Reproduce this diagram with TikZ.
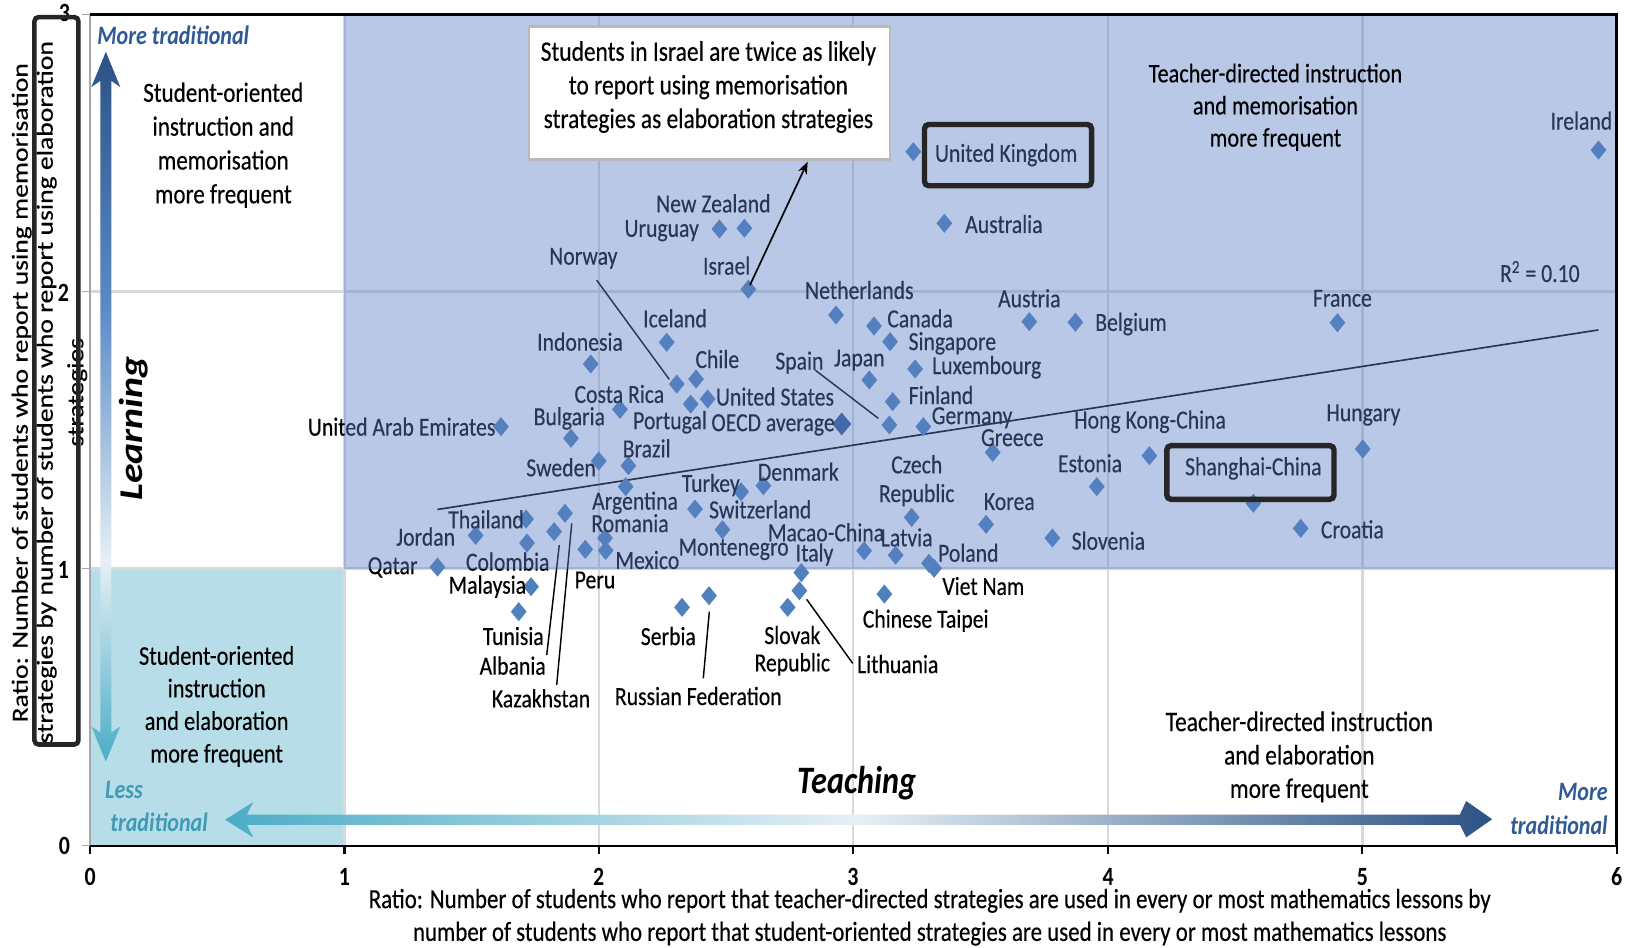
\documentclass[tikz,border=0pt]{standalone}
\usepackage{fontspec}
\setmainfont{Carlito}
\newfontfamily\hf{Carlito}[FakeStretch=0.83,FakeBold=0.3]
\newfontfamily\hfb{Carlito}[FakeStretch=0.83]
\newfontfamily\vf{Carlito}[FakeStretch=1.2,FakeBold=0.3]
\newfontfamily\vfb{Carlito}[FakeStretch=1.2]
\usetikzlibrary{shapes.geometric,arrows.meta}
\definecolor{diacol}{HTML}{4F81BD}
\definecolor{oecdcol}{HTML}{2F5A96}
\definecolor{ovl}{RGB}{93,128,198}
\definecolor{cyanreg}{HTML}{B7DEE8}
\definecolor{gridc}{HTML}{D9D9D9}
\definecolor{darkb}{HTML}{2C5284}
\definecolor{midb}{HTML}{5A8AC6}
\definecolor{arrcyan}{HTML}{4BACC6}
\definecolor{whitish}{HTML}{E6F0F5}
\definecolor{tradblue}{HTML}{2F5A96}
\definecolor{tradteal}{HTML}{3E9AB5}
\definecolor{boxc}{HTML}{262626}
\definecolor{axgrayc}{HTML}{A6A6A6}
\begin{document}
\begin{tikzpicture}[x=0.5pt,y=-0.5pt,
  dia/.style={diamond, fill=diacol, inner sep=0pt, outer sep=0pt, minimum width=7.6pt, minimum height=9.2pt},
  lab/.style={font={\hf\fontsize{12.6}{15}\selectfont}, inner sep=0pt, text=black},
  quad/.style={font={\hf\fontsize{13.4}{16.3}\selectfont}, inner sep=0pt, align=center, text=black},
  tick/.style={font={\hfb\bfseries\fontsize{12.7}{15}\selectfont}, inner sep=0pt},
  lead/.style={black, line width=0.7pt},
  gridl/.style={gridc, line width=1.1pt},
  axg/.style={axgrayc, line width=0.8pt},
  hlbox/.style={draw=boxc, line width=2.6pt, rounded corners=2pt},
  ]
\useasboundingbox (0,0) rectangle (1568,913);
\fill[white] (0,0) rectangle (1568,913);
% lower-left region
\fill[cyanreg] (87,548) rectangle (332,815);
% gridlines
\foreach \gx in {332,577,822,1068,1313} \draw[gridl] (\gx,14) -- (\gx,815);
\foreach \gy in {281,548} \draw[gridl] (87,\gy) -- (1558,\gy);
% trend line
\coordinate (tA) at (421.5,491);
\coordinate (tB) at (1540.4,318);
\draw[black, line width=0.8pt] (tA) -- (tB);
% diamonds
\node[dia] (dIreland) at (1540.5,144.6) {};
\node[dia] (dUK) at (880.2,146.2) {};
\node[dia] (dAustralia) at (910.1,215.2) {};
\node[dia] (dUruguay) at (693.3,220.7) {};
\node[dia] (dNZ) at (717.4,220) {};
\node[dia] (dIsrael) at (721.2,278.8) {};
\node[dia] (dNetherlands) at (805.7,303.6) {};
\node[dia] (dCanada) at (842.3,314.2) {};
\node[dia] (dSingapore) at (857.8,329.3) {};
\node[dia] (dAustria) at (992,310) {};
\node[dia] (dBelgium) at (1036.4,310.6) {};
\node[dia] (dFrance) at (1288.9,311) {};
\node[dia] (dIceland) at (642.5,329.9) {};
\node[dia] (dIndonesia) at (569.3,350.8) {};
\node[dia] (dChile) at (670.8,365.3) {};
\node[dia] (dNorway) at (652.2,370.1) {};
\node[dia] (dJapan) at (837.8,366.2) {};
\node[dia] (dLuxembourg) at (881.9,355.6) {};
\node[dia] (dCostaRica) at (597.5,394.5) {};
\node[dia] (dUS) at (682,384.5) {};
\node[dia] (dPortugal) at (665.6,389.4) {};
\node[dia] (dFinland) at (860.3,387.1) {};
\node[dia, fill=oecdcol, minimum width=9.2pt, minimum height=11pt] (dOECD) at (811.2,408.6) {};
\node[dia] (dSpain) at (857.1,409.6) {};
\node[dia] (dGermany) at (889.9,411.2) {};
\node[dia] (dUAE) at (482.8,411.2) {};
\node[dia] (dBulgaria) at (550.3,422.4) {};
\node[dia] (dGreece) at (956.7,436) {};
\node[dia] (dSweden) at (577,444.3) {};
\node[dia] (dBrazil) at (605.6,448.8) {};
\node[dia] (dHongKong) at (1107.7,439.2) {};
\node[dia] (dHungary) at (1313.3,432.7) {};
\node[dia] (dEstonia) at (1057,469) {};
\node[dia] (dDenmark) at (735.7,468.1) {};
\node[dia] (dTurkey) at (714.2,473.9) {};
\node[dia] (dArgentina) at (603,469) {};
\node[dia] (dSwitzerland) at (669.8,490.6) {};
\node[dia] (dCzech) at (878.6,498.6) {};
\node[dia] (dKorea) at (950.3,505.3) {};
\node[dia] (dShanghai) at (1207.9,485) {};
\node[dia] (dCroatia) at (1253.5,509.2) {};
\node[dia] (dSlovenia) at (1014.2,518.5) {};
\node[dia] (dThailand) at (507,500.3) {};
\node[dia] (dKazakhstan) at (544.5,494.7) {};
\node[dia] (dAlbania) at (534,512.4) {};
\node[dia] (dJordan) at (458.4,516) {};
\node[dia] (dColombia) at (507.9,523.3) {};
\node[dia] (dRomania) at (583.1,518.5) {};
\node[dia] (dPeru) at (564,529.4) {};
\node[dia] (dMexico) at (583.7,530.5) {};
\node[dia] (dMontenegro) at (696.2,510.5) {};
\node[dia] (dMacao) at (832.8,530.8) {};
\node[dia] (dLatvia) at (863.2,535) {};
\node[dia] (dPoland) at (895.3,542.9) {};
\node[dia] (dVietNam) at (900.2,547.7) {};
\node[dia] (dQatar) at (421.6,546.5) {};
\node[dia] (dItaly) at (772.3,551.9) {};
\node[dia] (dLithuania) at (770.4,569.3) {};
\node[dia] (dMalaysia) at (511.8,565.4) {};
\node[dia] (dTaipei) at (852.3,572.5) {};
\node[dia] (dRussia) at (683.3,574.1) {};
\node[dia] (dSerbia) at (657.3,585.3) {};
\node[dia] (dSlovak) at (759.1,585.3) {};
\node[dia] (dTunisia) at (499.9,589.5) {};
% labels
\node[lab] (lIreland) at (1524,116.3) {Ireland};
\node[lab] (lUK) at (969.7,149.4) {United Kingdom};
\node[lab] (lAustralia) at (967.5,215.9) {Australia};
\node[lab] (lNZ) at (687.5,196) {New Zealand};
\node[lab] (lUruguay) at (637.7,222.3) {Uruguay};
\node[lab] (lNorway) at (562.2,249) {Norway};
\node[lab] (lIsrael) at (700.3,256) {Israel};
\node[lab] (lNetherlands) at (828.2,279.5) {Netherlands};
\node[lab] (lAustria) at (992,287.5) {Austria};
\node[lab] (lFrance) at (1293.7,287.5) {France};
\node[lab] (lR2) at (1484,261.8) {R\textsuperscript{2} = 0.10};
\node[lab] (lCanada) at (886.7,306.8) {Canada};
\node[lab] (lBelgium) at (1090,312.3) {Belgium};
\node[lab] (lIceland) at (650.5,306.8) {Iceland};
\node[lab] (lIndonesia) at (559,329.3) {Indonesia};
\node[lab] (lSingapore) at (917.8,330.9) {Singapore};
\node[lab] (lChile) at (691.3,346) {Chile};
\node[lab] (lSpain) at (770.4,349.5) {Spain};
\node[lab] (lJapan) at (828.2,347) {Japan};
\node[lab] (lLuxembourg) at (950.9,354) {Luxembourg};
\node[lab] (lCostaRica) at (596.9,379.7) {Costa Rica};
\node[lab] (lUS) at (746.9,382.2) {United States};
\node[lab] (lFinland) at (906.9,380.7) {Finland};
\node[lab] (lBulgaria) at (548.7,403.2) {Bulgaria};
\node[lab] (lPortugal) at (645.7,407) {Portugal};
\node[lab] (lOECD) at (745,409.5) {OECD average};
\node[lab] (lGermany) at (936.8,402.6) {Germany};
\node[lab] (lUAE) at (387.1,411.2) {United Arab Emirates};
\node[lab] (lGreece) at (975.6,421.8) {Greece};
\node[lab] (lHongKong) at (1108.3,406.4) {Hong Kong-China};
\node[lab] (lHungary) at (1313.9,400) {Hungary};
\node[lab] (lBrazil) at (623.2,432.1) {Brazil};
\node[lab] (lSweden) at (540.7,450.4) {Sweden};
\node[lab] (lCzech) at (883.5,447.5) {Czech};
\node[lab] (lCzechR) at (883.5,477.1) {Republic};
\node[lab] (lEstonia) at (1050.5,446.5) {Estonia};
\node[lab] (lShanghai) at (1207.9,451.4) {Shanghai-China};
\node[lab] (lDenmark) at (769.4,454.6) {Denmark};
\node[lab] (lTurkey) at (685,467.4) {Turkey};
\node[lab] (lArgentina) at (612,484.6) {Argentina};
\node[lab] (lSwitzerland) at (732.6,490.9) {Switzerland};
\node[lab] (lKorea) at (972.7,483.5) {Korea};
\node[lab] (lCroatia) at (1303.3,510.1) {Croatia};
\node[lab] (lThailand) at (468.4,500.5) {Thailand};
\node[lab] (lRomania) at (607.2,504.2) {Romania};
\node[lab] (lMacao) at (796.1,513) {Macao-China};
\node[lab] (lJordan) at (410.2,517.2) {Jordan};
\node[lab] (lLatvia) at (873.8,517.9) {Latvia};
\node[lab] (lSlovenia) at (1068.2,521.1) {Slovenia};
\node[lab] (lMontenegro) at (707,529.5) {Montenegro};
\node[lab] (lItaly) at (785,534.4) {Italy};
\node[lab] (lPoland) at (933.2,532.7) {Poland};
\node[lab] (lMexico) at (623.9,539.7) {Mexico};
\node[lab] (lColombia) at (489.3,541.3) {Colombia};
\node[lab] (lQatar) at (378.4,546.8) {Qatar};
\node[lab] (lPeru) at (573.4,559) {Peru};
\node[lab] (lVietNam) at (947.7,564.8) {Viet Nam};
\node[lab] (lMalaysia) at (469.7,565.4) {Malaysia};
\node[lab] (lTaipei) at (892.1,598.2) {Chinese Taipei};
\node[lab] (lSerbia) at (644.1,613) {Serbia};
\node[lab] (lTunisia) at (494.7,613) {Tunisia};
\node[lab] (lSlovak) at (763.6,612) {Slovak};
\node[lab] (lSlovakR) at (763.6,640.3) {Republic};
\node[lab] (lAlbania) at (494.1,641.5) {Albania};
\node[lab] (lLithuania) at (865.2,640) {Lithuania};
\node[lab] (lKazakhstan) at (521.4,673) {Kazakhstan};
\node[lab] (lRussia) at (673,670.8) {Russian Federation};
% leader lines
\coordinate (nNorA) at (575,270);   \coordinate (nNorB) at (645,365.6);
\coordinate (nSpaA) at (785.5,356.6); \coordinate (nSpaB) at (846.5,403.2);
\coordinate (nAlbA) at (526.9,631.3); \coordinate (nAlbB) at (539,525.3);
\coordinate (nKazA) at (536.5,660.2); \coordinate (nKazB) at (551,504.4);
\coordinate (nRusA) at (683.6,589.5); \coordinate (nRusB) at (677.8,653.7);
\coordinate (nLitA) at (777.4,577.6); \coordinate (nLitB) at (821.8,639.3);
\draw[lead] (nNorA) -- (nNorB);
\draw[lead] (nSpaA) -- (nSpaB);
\draw[lead] (nAlbA) -- (nAlbB);
\draw[lead] (nKazA) -- (nKazB);
\draw[lead] (nRusA) -- (nRusB);
\draw[lead] (nLitA) -- (nLitB);
% translucent blue overlay
\fill[ovl, opacity=0.43] (332,14) rectangle (1558,548);
% axes
\draw[axg] (86.5,14) -- (86.5,815);
\foreach \ty in {14,281,548,815} \draw[axg] (79,\ty) -- (86.5,\ty);
\draw[black, line width=1pt] (86.5,815) -- (1558,815);
\foreach \tx in {87,332,577,822,1068,1313,1558} \draw[black, line width=1pt] (\tx,815) -- (\tx,823);
\draw[black, line width=1.5pt] (87,14) -- (1558,14) -- (1558,815);
% tick labels
\node[tick] (y3) at (62,12.5) {3};
\node[tick] (y2) at (61,282) {2};
\node[tick] (y1) at (61,549.4) {1};
\node[tick] (y0) at (62,815.4) {0};
\node[tick] (x0) at (87,845) {0};
\node[tick] (x1) at (332,845) {1};
\node[tick] (x2) at (577,845) {2};
\node[tick] (x3) at (822,845) {3};
\node[tick] (x4) at (1068,845) {4};
\node[tick] (x5) at (1313,845) {5};
\node[tick] (x6) at (1558,845) {6};
% quadrant texts
\node[quad] (qTL) at (215.2,139.9) {Student-oriented\\instruction and\\memorisation\\more frequent};
\node[quad, font={\hf\fontsize{13}{15.7}\selectfont}] (qBL) at (208.8,680.8) {Student-oriented\\instruction\\and elaboration\\more frequent};
\node[quad, font={\hf\fontsize{12.9}{15.5}\selectfont}] (qTR) at (1229.2,103.4) {Teacher-directed instruction\\and memorisation\\more frequent};
\node[quad, font={\hf\fontsize{13.6}{16.1}\selectfont}] (qBR) at (1252.2,729.5) {Teacher-directed instruction\\and elaboration\\more frequent};
% callout
\node[draw=gray!55, line width=1.2pt, fill=white, minimum width=174pt, minimum height=63.9pt, inner sep=0pt] (callout) at (683.8,89.6) {};
\node[quad, font={\hf\fontsize{13.6}{16.2}\selectfont}] (calloutText) at (682.7,83.9) {Students in Israel are twice as likely\\to report using memorisation\\strategies as elaboration strategies};
\coordinate (callTip) at (778.4,155.8);
\coordinate (israelTop) at (722.8,274.7);
\draw[black, line width=0.8pt, -{Stealth[length=6pt,width=4.5pt]}] (israelTop) -- (callTip);
% highlight boxes
\draw[hlbox] (891,120) rectangle (1052,179);
\draw[hlbox] (1124.5,429.5) rectangle (1285.6,481.2);
% horizontal arrow
\shade[left color=arrcyan, right color=darkb, middle color=whitish]
  (217,790) -- (244,773) -- (238,785) -- (1407,785) -- (1413,772) -- (1438,789.5)
  -- (1413,807) -- (1407,795) -- (238,795) -- (244,807) -- cycle;
% vertical arrow
\shade[top color=darkb, bottom color=whitish, middle color=midb]
  (102,50) -- (116,84) -- (107.3,78) -- (107.3,541) -- (96.7,541) -- (96.7,78) -- (88,84) -- cycle;
\shade[top color=whitish, bottom color=arrcyan]
  (96.7,540) -- (107.3,540) -- (107.3,706) -- (116,700) -- (102,734) -- (88,700) -- (96.7,706) -- cycle;
% axis words
\node[inner sep=0pt, font={\hfb\bfseries\itshape\fontsize{18.7}{22}\selectfont}] (teach) at (826,755) {Teaching};
\node[inner sep=0pt, rotate=90, font={\vfb\bfseries\itshape\fontsize{16}{19}\selectfont}] (learn) at (128.5,412.8) {Learning};
\node[inner sep=0pt, text=tradblue, font={\hfb\bfseries\itshape\fontsize{12.8}{16}\selectfont}] (moreTL) at (167,33.7) {More traditional};
\node[inner sep=0pt, text=tradblue, align=right, anchor=east, font={\hfb\bfseries\itshape\fontsize{12.8}{16.3}\selectfont}] (moreBR) at (1549.7,780) {More\\traditional};
\node[inner sep=0pt, text=tradteal, align=left, anchor=west, font={\hfb\bfseries\itshape\fontsize{12.8}{16}\selectfont}] (lessBL) at (101,777) {Less\\\hspace*{2.5pt}traditional};
% y-axis title
\node[inner sep=0pt, rotate=90, font={\vf\fontsize{11.1}{13}\selectfont}] (yt1) at (20.9,378.5) {Ratio: Number of students who report using memorisation};
\node[inner sep=0pt, rotate=90, font={\vf\fontsize{11.1}{13}\selectfont}] (yt2) at (45,378) {strategies by number of students who report using elaboration};
\node[inner sep=0pt, rotate=90, font={\vf\fontsize{11.1}{13}\selectfont}] (yt3) at (74.5,378) {strategies};
\draw[draw=boxc, line width=2.2pt, rounded corners=2pt] (33.2,16.5) rectangle (75.6,717.5);
% x-axis title
\node[quad, font={\hf\fontsize{13.3}{15.8}\selectfont}] (xt) at (896,884) {Ratio: Number of students who report that teacher-directed strategies are used in every or most mathematics lessons by\\number of students who report that student-oriented strategies are used in every or most mathematics lessons};
\end{tikzpicture}
\end{document}
